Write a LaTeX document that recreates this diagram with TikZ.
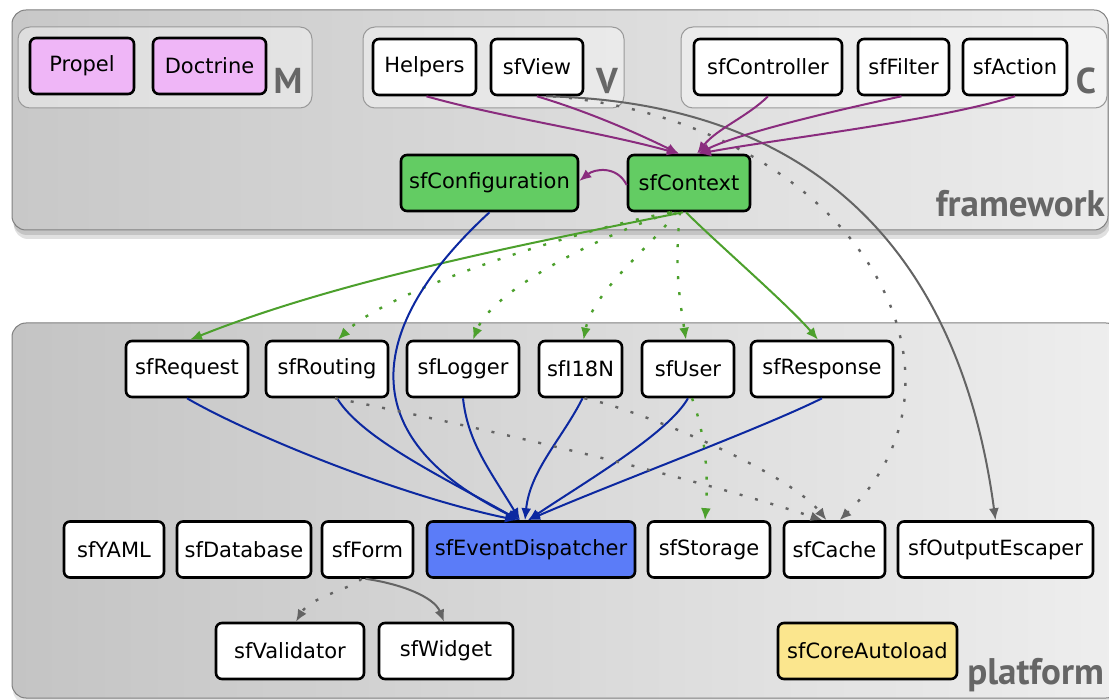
\documentclass[tikz,border=0pt]{standalone}
\usepackage{fontspec}
\setmainfont{PT Sans}
\newfontfamily\nodefont{DejaVu Sans}
\usetikzlibrary{arrows.meta}
\definecolor{cPurple}{RGB}{138,44,126}
\definecolor{cGreenL}{RGB}{76,160,44}
\definecolor{cBlueL}{RGB}{12,40,160}
\definecolor{cGrayL}{RGB}{100,100,100}
\definecolor{cGreenF}{RGB}{99,204,99}
\definecolor{cBlueF}{RGB}{91,124,248}
\definecolor{cPinkF}{RGB}{239,182,247}
\definecolor{cYellowF}{RGB}{251,230,142}
\definecolor{cLabel}{RGB}{102,102,102}
\definecolor{fwL}{RGB}{200,200,200}
\definecolor{fwR}{RGB}{236,236,236}
\definecolor{plL}{RGB}{196,196,196}
\definecolor{plR}{RGB}{238,238,238}
\begin{document}
\begin{tikzpicture}[x=1pt,y=-1pt,
  nbox/.style={draw=black, line width=2.6pt, rounded corners=6pt, fill=white,
    inner sep=0pt, minimum height=56pt, font=\nodefont\fontsize{21}{21}\selectfont},
  panel/.style={draw=black!50, line width=1pt, rounded corners=14pt, left color=#1L, right color=#1R},
  grp/.style={draw=black!40, line width=1pt, rounded corners=12pt, fill=white, fill opacity=0.4},
  glabel/.style={text=cLabel, font=\fontsize{36}{36}\selectfont\bfseries, anchor=base, inner sep=0pt},
  plabel/.style={text=cLabel, font=\fontsize{37}{37}\selectfont\bfseries, anchor=base east, inner sep=0pt},
  tip/.style={-{Latex[length=12pt,width=10pt]}},
  pu/.style={draw=cPurple, line width=2pt, tip},
  gr/.style={draw=cGreenL, line width=2pt, tip},
  grd/.style={draw=cGreenL, line width=2.4pt, dash pattern=on 3pt off 13pt, tip},
  bl/.style={draw=cBlueL, line width=2pt, tip},
  gy/.style={draw=cGrayL, line width=2pt, tip},
  gyd/.style={draw=cGrayL, line width=2.4pt, dash pattern=on 3pt off 13pt, tip}
]
\useasboundingbox (0,0) rectangle (1109,700);
\fill[white] (0,0) rectangle (1109,700);

% panels with shadows
\fill[black, opacity=0.12, rounded corners=14pt] (14,16) rectangle (1110,239);
\fill[black, opacity=0.12, rounded corners=14pt] (13,13) rectangle (1109,235);
\path[panel=fw] (12,10) rectangle (1108,230);
\fill[black, opacity=0.10, rounded corners=14pt] (13,327) rectangle (1120,704);
\path[panel=pl] (12,323) rectangle (1120,698);

% groups
\path[grp] (18,27) rectangle (312,108);
\path[grp] (363,27) rectangle (624,108);
\path[grp] (681,27) rectangle (1107,108);
\node[glabel] (lM) at (288,94) {M};
\node[glabel] (lV) at (607,94) {V};
\node[glabel] (lC) at (1086,94) {C};
\node[plabel] (lfw) at (1105,217) {framework};
\node[plabel] (lpl) at (1104,684) {platform};

% framework nodes
\node[nbox, fill=cPinkF, minimum width=104pt] (propel) at (82,66) {Propel};
\node[nbox, fill=cPinkF, minimum width=113pt] (doctrine) at (209.5,66) {Doctrine};
\node[nbox, minimum width=103pt] (helpers) at (424.5,67) {Helpers};
\node[nbox, minimum width=92pt] (view) at (537,67) {sfView};
\node[nbox, minimum width=148pt] (controller) at (768,67) {sfController};
\node[nbox, minimum width=91pt] (filter) at (903.5,67) {sfFilter};
\node[nbox, minimum width=104pt] (action) at (1015,67) {sfAction};
\node[nbox, fill=cGreenF, minimum width=177pt] (config) at (489.5,183) {sfConfiguration};
\node[nbox, fill=cGreenF, minimum width=122pt] (ctx) at (689,183) {sfContext};

% platform nodes
\node[nbox, minimum width=122pt] (request) at (187,369) {sfRequest};
\node[nbox, minimum width=122pt] (routing) at (327,369) {sfRouting};
\node[nbox, minimum width=112pt] (logger) at (463,369) {sfLogger};
\node[nbox, minimum width=83pt] (i18n) at (580.5,369) {sfI18N};
\node[nbox, minimum width=92pt] (user) at (688,369) {sfUser};
\node[nbox, minimum width=142pt] (response) at (822,369) {sfResponse};

\node[nbox, minimum width=100pt] (yaml) at (114,549.5) {sfYAML};
\node[nbox, minimum width=134pt] (database) at (244,549.5) {sfDatabase};
\node[nbox, minimum width=91pt] (form) at (367.5,549.5) {sfForm};
\node[nbox, fill=cBlueF, minimum width=208pt] (evd) at (531,549.5) {sfEventDispatcher};
\node[nbox, minimum width=122pt] (storage) at (709,549.5) {sfStorage};
\node[nbox, minimum width=101pt] (cache) at (834.5,549.5) {sfCache};
\node[nbox, minimum width=195pt] (escaper) at (995.5,549.5) {sfOutputEscaper};

\node[nbox, minimum width=148pt] (validator) at (290,651) {sfValidator};
\node[nbox, minimum width=134pt] (widget) at (446,651) {sfWidget};
\node[nbox, fill=cYellowF, minimum width=179pt] (autoload) at (867.5,651) {sfCoreAutoload};

% gray from sfView
\draw[gy] ([xshift=9pt]view.south) .. controls +(274,6) and +(-35,-262) .. (escaper.north);
\draw[gyd] ([xshift=16pt]view.south) .. controls +(297,26) and +(155,-150) .. ([xshift=5pt]cache.north);

% purple into sfContext
\draw[pu] ([xshift=2pt]helpers.south) .. controls +(70,20) and +(-80,-22) .. ([xshift=-10pt]ctx.north);
\draw[pu] (view.south) .. controls +(50,15) and +(-45,-22) .. ([xshift=-10pt]ctx.north);
\draw[pu] (controller.south) .. controls +(-20,20) and +(20,-25) .. ([xshift=8pt]ctx.north);
\draw[pu] ([xshift=-2pt]filter.south) .. controls +(-70,15) and +(40,-20) .. ([xshift=9pt]ctx.north);
\draw[pu] (action.south) .. controls +(-80,25) and +(80,-15) .. ([xshift=10pt]ctx.north);
\draw[pu] ([yshift=-2pt]ctx.west) .. controls +(-10,-20) and +(15,-12) .. ([yshift=2pt]config.east);

% green from sfContext
\draw[gr] ([xshift=-6pt]ctx.south) .. controls +(-150,30) and +(150,-60) .. ([xshift=3pt]request.north);
\draw[gr] ([xshift=-3pt]ctx.south) .. controls +(30,30) and +(-30,-35) .. ([xshift=-4pt]response.north);
\draw[grd] ([xshift=-19pt]ctx.south) .. controls +(-100,20) and +(50,-50) .. ([xshift=11pt]routing.north);
\draw[grd] ([xshift=-17pt]ctx.south) .. controls +(-72,23) and +(20,-50) .. ([xshift=10pt]logger.north);
\draw[grd] ([xshift=-13pt]ctx.south) .. controls +(-20,30) and +(10,-50) .. ([xshift=3pt]i18n.north);
\draw[grd] ([xshift=-9pt]ctx.south) .. controls +(-5,50) and +(-8,-50) .. ([xshift=-2pt]user.north);

% blue into sfEventDispatcher
\draw[bl] (config.south) .. controls (405,290) and (315,420) .. ([xshift=-11pt]evd.north);
\draw[bl] (request.south) .. controls +(60,35) and +(-120,-25) .. ([xshift=-14pt]evd.north);
\draw[bl] ([xshift=10pt]routing.south) .. controls +(25,40) and +(-80,-45) .. ([xshift=-12pt]evd.north);
\draw[bl] (logger.south) .. controls +(5,45) and +(-30,-50) .. ([xshift=-11pt]evd.north);
\draw[bl] ([xshift=2pt]i18n.south) .. controls +(-20,40) and +(5,-50) .. ([xshift=-6pt]evd.north);
\draw[bl] (user.south) .. controls +(-20,35) and +(60,-40) .. ([xshift=-3pt]evd.north);
\draw[bl] (response.south) .. controls +(-60,30) and +(80,-35) .. ([xshift=-3pt]evd.north);

% gray dotted into sfCache, green dotted to sfStorage
\draw[gyd] ([xshift=8pt]routing.south) .. controls +(80,15) and +(-150,-50) .. ([xshift=-12pt]cache.north);
\draw[gyd] ([xshift=4pt]i18n.south) .. controls +(50,10) and +(-40,-50) .. ([xshift=-8pt]cache.north);
\draw[grd] ([xshift=4pt]user.south) .. controls +(15,40) and +(3,-40) .. ([xshift=-4pt]storage.north);

% sfForm
\draw[gy] ([xshift=-2pt]form.south) .. controls +(35,5) and +(-10,-25) .. ([xshift=-2pt]widget.north);
\draw[gyd] ([xshift=-6pt]form.south) .. controls +(-10,10) and +(15,-25) .. ([xshift=6pt]validator.north);
\end{tikzpicture}
\end{document}
